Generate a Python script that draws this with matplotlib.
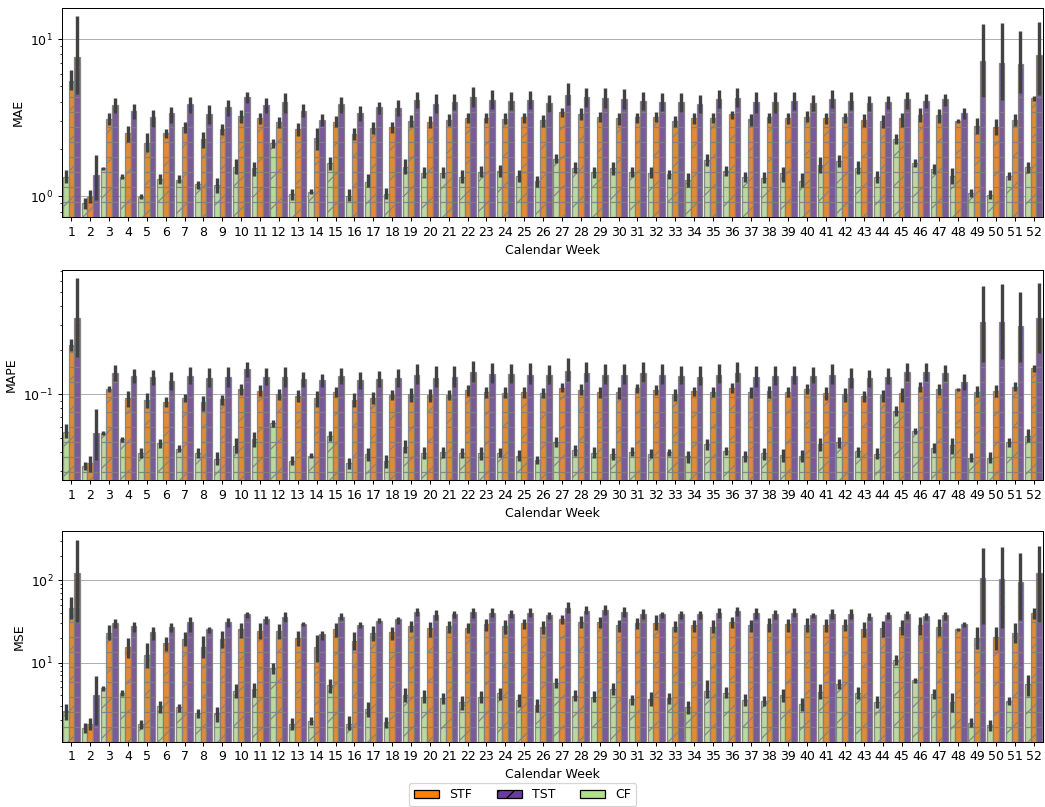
import colorsys
import numpy as np
import matplotlib
matplotlib.use('Agg')
import matplotlib.pyplot as plt
from matplotlib.colors import to_rgb
from matplotlib.patches import Patch

weeks = list(range(1, 53))
models = ['CF', 'STF', 'TST']
legend_order = ['STF', 'TST', 'CF']

# --- MAE ---
mae_cf = [1.33, 0.91, 1.51, 1.33, 0.99, 1.29, 1.27, 1.19, 1.18, 1.54, 1.51, 2.17, 1.03, 1.07, 1.64, 1.00, 1.24, 1.04, 1.54, 1.41,
          1.41, 1.33, 1.43, 1.45, 1.35, 1.25, 1.73, 1.52, 1.42, 1.52, 1.42, 1.41, 1.38, 1.27, 1.70, 1.45, 1.33, 1.31, 1.40, 1.26,
          1.58, 1.68, 1.51, 1.32, 2.31, 1.62, 1.49, 1.35, 1.05, 1.02, 1.35, 1.53]
mae_cf_lo = [1.21, 0.83, 1.47, 1.28, 0.96, 1.19, 1.22, 1.12, 1.05, 1.39, 1.35, 2.02, 0.95, 1.03, 1.47, 0.93, 1.14, 0.96, 1.39, 1.30,
             1.30, 1.21, 1.32, 1.33, 1.24, 1.15, 1.64, 1.40, 1.31, 1.37, 1.32, 1.30, 1.29, 1.14, 1.56, 1.35, 1.23, 1.21, 1.24, 1.14,
             1.40, 1.54, 1.38, 1.21, 2.15, 1.53, 1.39, 1.20, 0.99, 0.96, 1.27, 1.40]
mae_cf_hi = [1.47, 0.97, 1.54, 1.38, 1.04, 1.39, 1.37, 1.26, 1.30, 1.72, 1.66, 2.31, 1.11, 1.11, 1.77, 1.12, 1.38, 1.13, 1.73, 1.54,
             1.54, 1.46, 1.57, 1.58, 1.47, 1.35, 1.86, 1.66, 1.54, 1.66, 1.53, 1.54, 1.47, 1.40, 1.86, 1.57, 1.43, 1.42, 1.54, 1.40,
             1.79, 1.83, 1.68, 1.45, 2.48, 1.73, 1.60, 1.51, 1.12, 1.09, 1.43, 1.66]
mae_stf = [5.42, 0.99, 3.09, 2.52, 2.19, 2.52, 2.77, 2.31, 2.67, 3.26, 3.14, 2.96, 2.68, 2.34, 2.99, 2.49, 2.71, 2.77, 3.03, 2.99,
           3.06, 3.14, 3.17, 3.10, 3.19, 3.06, 3.43, 3.33, 3.21, 3.14, 3.19, 3.21, 3.02, 3.14, 3.17, 3.33, 3.10, 3.19, 3.14, 3.21,
           3.14, 3.19, 3.06, 3.02, 3.17, 3.29, 3.29, 3.03, 2.80, 2.77, 3.06, 4.21]
mae_stf_lo = [4.75, 0.90, 2.85, 2.23, 1.90, 2.34, 2.54, 2.02, 2.46, 2.92, 2.89, 2.71, 2.42, 1.97, 2.77, 2.28, 2.48, 2.54, 2.77, 2.73,
              2.80, 2.92, 2.92, 2.87, 2.94, 2.77, 3.19, 3.06, 2.99, 2.85, 2.94, 2.96, 2.77, 2.89, 2.92, 3.09, 2.80, 2.92, 2.89, 2.99,
              2.87, 2.92, 2.75, 2.71, 2.77, 2.99, 2.92, 2.94, 2.48, 2.46, 2.80, 4.06]
mae_stf_hi = [6.36, 1.10, 3.38, 2.81, 2.52, 2.68, 2.98, 2.58, 2.87, 3.54, 3.38, 3.21, 2.92, 2.71, 3.24, 2.71, 2.96, 2.98, 3.29, 3.24,
              3.33, 3.38, 3.41, 3.38, 3.41, 3.29, 3.67, 3.63, 3.46, 3.41, 3.41, 3.46, 3.26, 3.38, 3.38, 3.49, 3.34, 3.41, 3.38, 3.49,
              3.38, 3.41, 3.33, 3.29, 3.41, 3.63, 3.60, 3.10, 3.14, 3.09, 3.34, 4.37]
mae_tst = [7.75, 1.37, 3.81, 3.49, 3.19, 3.38, 3.85, 3.34, 3.69, 4.27, 3.80, 3.97, 3.51, 3.06, 3.87, 3.41, 3.69, 3.63, 4.10, 3.87,
           4.00, 4.27, 4.10, 4.06, 4.10, 3.91, 4.42, 4.27, 4.21, 4.15, 4.04, 3.97, 3.97, 3.87, 4.17, 4.25, 3.97, 3.97, 4.06, 3.91,
           4.15, 4.04, 3.91, 4.00, 4.15, 4.04, 4.17, 3.38, 7.28, 7.10, 6.93, 7.87]
mae_tst_lo = [4.47, 0.95, 3.38, 3.10, 2.77, 2.94, 3.41, 2.89, 3.24, 3.91, 3.38, 3.41, 3.19, 2.80, 3.38, 3.03, 3.34, 3.24, 3.63, 3.41,
              3.54, 3.69, 3.58, 3.54, 3.58, 3.46, 3.81, 3.72, 3.63, 3.58, 3.54, 3.51, 3.46, 3.38, 3.67, 3.72, 3.38, 3.41, 3.54, 3.51,
              3.67, 3.54, 3.51, 3.58, 3.60, 3.63, 3.76, 3.10, 4.31, 4.10, 4.53, 4.42]
mae_tst_hi = [14.1, 1.83, 4.25, 3.87, 3.54, 3.72, 4.31, 3.81, 4.10, 4.63, 4.20, 4.52, 3.87, 3.34, 4.27, 3.76, 4.00, 4.10, 4.63, 4.46,
              4.48, 4.94, 4.75, 4.63, 4.70, 4.42, 5.25, 4.88, 4.88, 4.80, 4.63, 4.52, 4.52, 4.42, 4.75, 4.88, 4.63, 4.58, 4.63, 4.42,
              4.75, 4.58, 4.37, 4.35, 4.63, 4.46, 4.46, 3.67, 12.4, 12.6, 11.2, 12.9]

# --- MAPE ---
mape_cf = [0.0555, 0.0323, 0.0546, 0.0494, 0.0398, 0.0461, 0.0422, 0.0394, 0.0361, 0.0443, 0.0494, 0.0633, 0.0351, 0.0380,
           0.0521, 0.0337, 0.0388, 0.0349, 0.0439, 0.0398, 0.0405, 0.0394, 0.0394, 0.0394, 0.0380, 0.0355, 0.0474, 0.0416,
           0.0394, 0.0388, 0.0405, 0.0388, 0.0401, 0.0378, 0.0457, 0.0411, 0.0378, 0.0394, 0.0384, 0.0378, 0.0455, 0.0469,
           0.0409, 0.0390, 0.0769, 0.0561, 0.0431, 0.0449, 0.0368, 0.0368, 0.0474, 0.0521]
mape_cf_lo = [0.0500, 0.0303, 0.0527, 0.0474, 0.0368, 0.0427, 0.0400, 0.0365, 0.0328, 0.0394, 0.0439, 0.0594, 0.0328, 0.0368,
              0.0479, 0.0308, 0.0349, 0.0315, 0.0394, 0.0361, 0.0368, 0.0365, 0.0356, 0.0370, 0.0349, 0.0331, 0.0439, 0.0378,
              0.0365, 0.0356, 0.0380, 0.0365, 0.0376, 0.0337, 0.0416, 0.0384, 0.0342, 0.0356, 0.0346, 0.0342, 0.0409, 0.0427,
              0.0370, 0.0359, 0.0711, 0.0532, 0.0398, 0.0388, 0.0346, 0.0337, 0.0439, 0.0474]
mape_cf_hi = [0.0623, 0.0342, 0.0564, 0.0513, 0.0431, 0.0494, 0.0450, 0.0431, 0.0401, 0.0505, 0.0555, 0.0667, 0.0378, 0.0394,
              0.0564, 0.0365, 0.0427, 0.0384, 0.0487, 0.0433, 0.0433, 0.0427, 0.0433, 0.0427, 0.0416, 0.0378, 0.0507, 0.0450,
              0.0433, 0.0427, 0.0433, 0.0420, 0.0422, 0.0412, 0.0494, 0.0439, 0.0412, 0.0431, 0.0422, 0.0416, 0.0505, 0.0513,
              0.0439, 0.0427, 0.0832, 0.0585, 0.0461, 0.0500, 0.0394, 0.0405, 0.0505, 0.0579]
mape_stf = [0.218, 0.0337, 0.108, 0.095, 0.0915, 0.0891, 0.094, 0.0891, 0.0925, 0.108, 0.106, 0.100, 0.098, 0.095, 0.104,
            0.0915, 0.095, 0.099, 0.100, 0.099, 0.099, 0.107, 0.103, 0.1026, 0.103, 0.1016, 0.111, 0.107, 0.103, 0.103, 0.110,
            0.107, 0.100, 0.106, 0.103, 0.110, 0.103, 0.105, 0.104, 0.108, 0.1016, 0.100, 0.098, 0.099, 0.1016, 0.113, 0.108,
            0.109, 0.104, 0.105, 0.113, 0.151]
mape_stf_lo = [0.198, 0.0295, 0.103, 0.0823, 0.0802, 0.0823, 0.0881, 0.0769, 0.0845, 0.0989, 0.098, 0.0915, 0.0881, 0.0823,
               0.0953, 0.0823, 0.0859, 0.0915, 0.0891, 0.0891, 0.0915, 0.0975, 0.094, 0.094, 0.094, 0.094, 0.103, 0.0989, 0.095,
               0.093, 0.1016, 0.0989, 0.090, 0.098, 0.0953, 0.1016, 0.095, 0.095, 0.0953, 0.100, 0.0915, 0.0891, 0.0881, 0.0891,
               0.0891, 0.103, 0.0989, 0.1053, 0.0964, 0.0964, 0.1053, 0.143]
mape_stf_hi = [0.239, 0.0380, 0.114, 0.105, 0.1016, 0.0964, 0.100, 0.0975, 0.0989, 0.118, 0.115, 0.109, 0.107, 0.105, 0.113,
               0.1016, 0.103, 0.107, 0.111, 0.109, 0.107, 0.116, 0.113, 0.112, 0.112, 0.110, 0.120, 0.118, 0.113, 0.113, 0.118,
               0.115, 0.109, 0.113, 0.112, 0.119, 0.112, 0.114, 0.113, 0.117, 0.112, 0.110, 0.105, 0.107, 0.110, 0.121, 0.117,
               0.111, 0.114, 0.115, 0.121, 0.159]
mape_tst = [0.335, 0.0541, 0.141, 0.1335, 0.131, 0.123, 0.134, 0.130, 0.131, 0.148, 0.131, 0.131, 0.127, 0.125, 0.134, 0.125,
            0.127, 0.129, 0.1355, 0.130, 0.132, 0.143, 0.137, 0.137, 0.1355, 0.1355, 0.1445, 0.141, 0.1355, 0.1355, 0.139,
            0.1355, 0.1335, 0.132, 0.1355, 0.141, 0.131, 0.1335, 0.1335, 0.1335, 0.1355, 0.129, 0.129, 0.131, 0.143, 0.143,
            0.141, 0.121, 0.311, 0.311, 0.294, 0.335]
mape_tst_lo = [0.181, 0.0355, 0.123, 0.119, 0.115, 0.107, 0.118, 0.1117, 0.113, 0.132, 0.115, 0.113, 0.113, 0.113, 0.118,
               0.109, 0.1117, 0.1117, 0.118, 0.1117, 0.113, 0.122, 0.119, 0.119, 0.118, 0.118, 0.123, 0.122, 0.118, 0.118,
               0.121, 0.118, 0.117, 0.115, 0.119, 0.122, 0.1117, 0.116, 0.117, 0.120, 0.118, 0.111, 0.113, 0.118, 0.124,
               0.124, 0.123, 0.107, 0.167, 0.175, 0.167, 0.191]
mape_tst_hi = [0.623, 0.0789, 0.159, 0.149, 0.147, 0.143, 0.154, 0.151, 0.155, 0.167, 0.151, 0.153, 0.143, 0.137, 0.151, 0.143,
               0.145, 0.148, 0.160, 0.156, 0.156, 0.170, 0.163, 0.161, 0.163, 0.159, 0.176, 0.167, 0.161, 0.161, 0.166, 0.161,
               0.157, 0.156, 0.161, 0.167, 0.157, 0.157, 0.156, 0.153, 0.160, 0.151, 0.147, 0.151, 0.163, 0.163, 0.159, 0.137,
               0.552, 0.566, 0.505, 0.576]

# --- MSE ---
mse_cf = [2.59, 1.62, 4.88, 4.32, 1.78, 2.98, 2.87, 2.43, 2.43, 4.57, 4.79, 8.53, 1.80, 1.95, 5.36, 1.80, 2.71, 1.92, 4.05, 3.86,
          3.69, 3.36, 3.86, 4.25, 3.52, 3.06, 5.72, 3.97, 3.86, 4.74, 3.62, 3.59, 3.69, 2.92, 4.53, 4.32, 3.52, 3.45, 4.05, 3.12,
          4.36, 5.46, 4.25, 3.36, 10.8, 6.16, 4.12, 3.36, 1.83, 1.75, 3.42, 5.46]
mse_cf_lo = [2.01, 1.39, 4.57, 3.97, 1.56, 2.47, 2.54, 2.15, 1.92, 3.69, 3.86, 7.28, 1.52, 1.75, 4.25, 1.52, 2.21, 1.59, 3.30, 3.21,
             3.15, 2.66, 3.27, 3.52, 2.92, 2.49, 4.88, 3.45, 3.30, 4.05, 3.06, 2.98, 3.15, 2.38, 3.69, 3.69, 3.01, 2.98, 3.36, 2.61,
             3.59, 4.74, 3.59, 2.79, 9.37, 5.61, 3.62, 2.49, 1.67, 1.49, 3.06, 3.97]
mse_cf_hi = [3.12, 1.83, 5.16, 4.66, 2.01, 3.45, 3.15, 2.71, 2.87, 5.51, 5.72, 9.82, 2.11, 2.17, 6.34, 2.27, 3.36, 2.21, 4.97, 4.66,
             4.32, 3.94, 4.57, 4.97, 4.12, 3.59, 6.45, 4.66, 4.53, 5.61, 4.05, 4.45, 4.32, 3.42, 6.16, 5.12, 4.12, 3.97, 4.79, 3.69,
             5.46, 6.28, 5.12, 3.97, 12.4, 6.57, 4.74, 4.32, 2.11, 2.01, 3.86, 7.08]
mse_stf = [46.6, 1.78, 23.1, 15.4, 12.4, 17.5, 19.4, 15.6, 19.4, 25.4, 24.5, 24.3, 19.8, 15.6, 25.4, 18.5, 22.7, 23.3, 28.1, 26.6,
           27.9, 26.6, 29.2, 28.1, 30.1, 26.9, 33.6, 31.5, 31.5, 28.7, 30.1, 30.6, 27.4, 28.7, 27.4, 30.9, 28.7, 29.2, 29.2, 28.7,
           28.7, 28.7, 25.6, 26.6, 26.9, 28.7, 26.9, 25.4, 20.1, 20.3, 22.7, 39.7]
mse_stf_lo = [33.9, 1.52, 18.8, 11.3, 8.69, 13.9, 15.9, 11.3, 15.2, 19.8, 19.2, 19.2, 15.9, 10.1, 20.7, 14.3, 18.5, 18.8, 23.3, 20.3,
              22.7, 22.7, 24.3, 22.3, 25.6, 22.1, 29.2, 26.6, 26.1, 23.3, 25.6, 24.9, 23.3, 23.8, 22.7, 26.1, 23.8, 23.8, 23.8, 23.3,
              23.3, 24.3, 20.7, 20.7, 21.7, 21.7, 21.3, 24.3, 14.5, 14.2, 17.2, 33.6]
mse_stf_hi = [63.4, 2.15, 28.7, 19.8, 17.2, 20.5, 23.3, 21.1, 24.3, 30.6, 30.6, 29.2, 24.3, 21.7, 30.1, 23.3, 27.9, 27.4, 32.1, 30.9,
              32.4, 30.1, 33.6, 33.0, 33.6, 32.4, 37.9, 37.2, 36.2, 33.0, 34.5, 37.9, 32.4, 33.0, 33.0, 36.2, 33.0, 34.5, 33.9, 34.5,
              33.6, 33.6, 31.5, 32.4, 33.0, 36.2, 33.9, 26.6, 27.4, 27.4, 30.1, 45.7]
mse_tst = [121.6, 4.05, 30.1, 28.1, 23.3, 27.1, 31.5, 25.4, 30.9, 38.6, 33.9, 36.2, 29.5, 22.1, 36.2, 28.7, 32.4, 33.9, 41.6, 37.9,
           38.6, 40.8, 39.7, 38.6, 40.5, 37.9, 46.6, 42.8, 43.6, 40.8, 38.6, 38.6, 38.6, 38.6, 39.7, 42.4, 39.7, 38.6, 40.5, 37.9,
           39.0, 39.0, 36.2, 37.9, 38.6, 37.2, 37.9, 29.2, 105.7, 103.8, 94.6, 121.6]
mse_tst_lo = [31.5, 1.75, 26.1, 23.3, 18.8, 23.3, 23.3, 23.1, 26.9, 34.5, 29.5, 31.5, 27.9, 18.8, 33.0, 26.1, 30.1, 29.5, 37.2, 33.0,
              34.5, 35.2, 35.5, 34.5, 35.5, 33.6, 39.7, 38.6, 37.9, 35.5, 33.9, 34.5, 33.9, 33.6, 34.5, 37.2, 33.9, 33.9, 35.5, 35.2,
              33.9, 33.9, 33.0, 33.9, 33.9, 33.0, 33.0, 26.9, 29.2, 26.6, 33.0, 31.5]
mse_tst_hi = [309, 6.95, 33.9, 31.5, 26.9, 30.1, 36.2, 27.4, 35.2, 41.6, 37.2, 41.6, 30.9, 24.5, 39.7, 30.9, 34.5, 36.2, 46.6, 43.6,
              42.8, 46.6, 45.7, 43.6, 46.6, 40.8, 55.1, 49.2, 50.2, 47.9, 44.5, 41.6, 42.8, 42.3, 45.7, 47.9, 45.7, 43.6, 45.7, 40.5,
              44.5, 44.5, 39.7, 40.8, 42.3, 39.7, 40.8, 30.9, 249, 256, 213, 261]

panels = [
    ('MAE', (0.733, 15.9), {'CF': (mae_cf, mae_cf_lo, mae_cf_hi),
                             'STF': (mae_stf, mae_stf_lo, mae_stf_hi),
                             'TST': (mae_tst, mae_tst_lo, mae_tst_hi)}),
    ('MAPE', (0.0259, 0.713), {'CF': (mape_cf, mape_cf_lo, mape_cf_hi),
                                'STF': (mape_stf, mape_stf_lo, mape_stf_hi),
                                'TST': (mape_tst, mape_tst_lo, mape_tst_hi)}),
    ('MSE', (1.097, 397), {'CF': (mse_cf, mse_cf_lo, mse_cf_hi),
                            'STF': (mse_stf, mse_stf_lo, mse_stf_hi),
                            'TST': (mse_tst, mse_tst_lo, mse_tst_hi)}),
]

palette = {'STF': '#ff7f00', 'TST': '#6a3d9a', 'CF': '#b2df8a'}
bar_hatch = {'CF': '/-', 'STF': '/-', 'TST': '-'}
legend_hatch = {'STF': '', 'TST': '//', 'CF': ''}


def desaturate(color, prop):
    h, l, s = colorsys.rgb_to_hls(*to_rgb(color))
    return colorsys.hls_to_rgb(h, l, s * prop)


fig = plt.figure(figsize=(1045 / 90, 807 / 90), dpi=90)
ax_boxes = [(0.0593, 0.7305, 0.9388, 0.2602),
            (0.0593, 0.4052, 0.9388, 0.2606),
            (0.0593, 0.0809, 0.9388, 0.2611)]

x = np.arange(len(weeks))
width = 0.3
offsets = {'CF': -width, 'STF': 0.0, 'TST': width}

for box, (metric, ylim, series) in zip(ax_boxes, panels):
    ax = fig.add_axes(box)
    ax.set_yscale('log')
    for m in models:
        vals, lo, hi = series[m]
        ax.bar(x + offsets[m], vals, width=width, color=desaturate(palette[m], 0.75), alpha=0.9,
               edgecolor='gray', linewidth=1, hatch=bar_hatch[m], zorder=2)
        ax.vlines(x + offsets[m], lo, hi, color='#424242', linewidth=2.7, zorder=3)
    ax.set_ylim(*ylim)
    ax.set_xlim(-0.5, len(weeks) - 0.5)
    ax.set_xticks(x)
    ax.set_xticklabels([str(w) for w in weeks])
    ax.set_xlabel('Calendar Week')
    ax.set_ylabel(metric)
    ax.yaxis.grid(True, which='major', color='#b0b0b0', linewidth=0.8)
    ax.set_axisbelow(True)

handles = [Patch(facecolor=palette[m], edgecolor='black', hatch=legend_hatch[m], label=m) for m in legend_order]
fig.legend(handles=handles, loc='lower center', ncol=3, bbox_to_anchor=(0.5, -0.007))

fig.savefig('out.png', dpi=90)
